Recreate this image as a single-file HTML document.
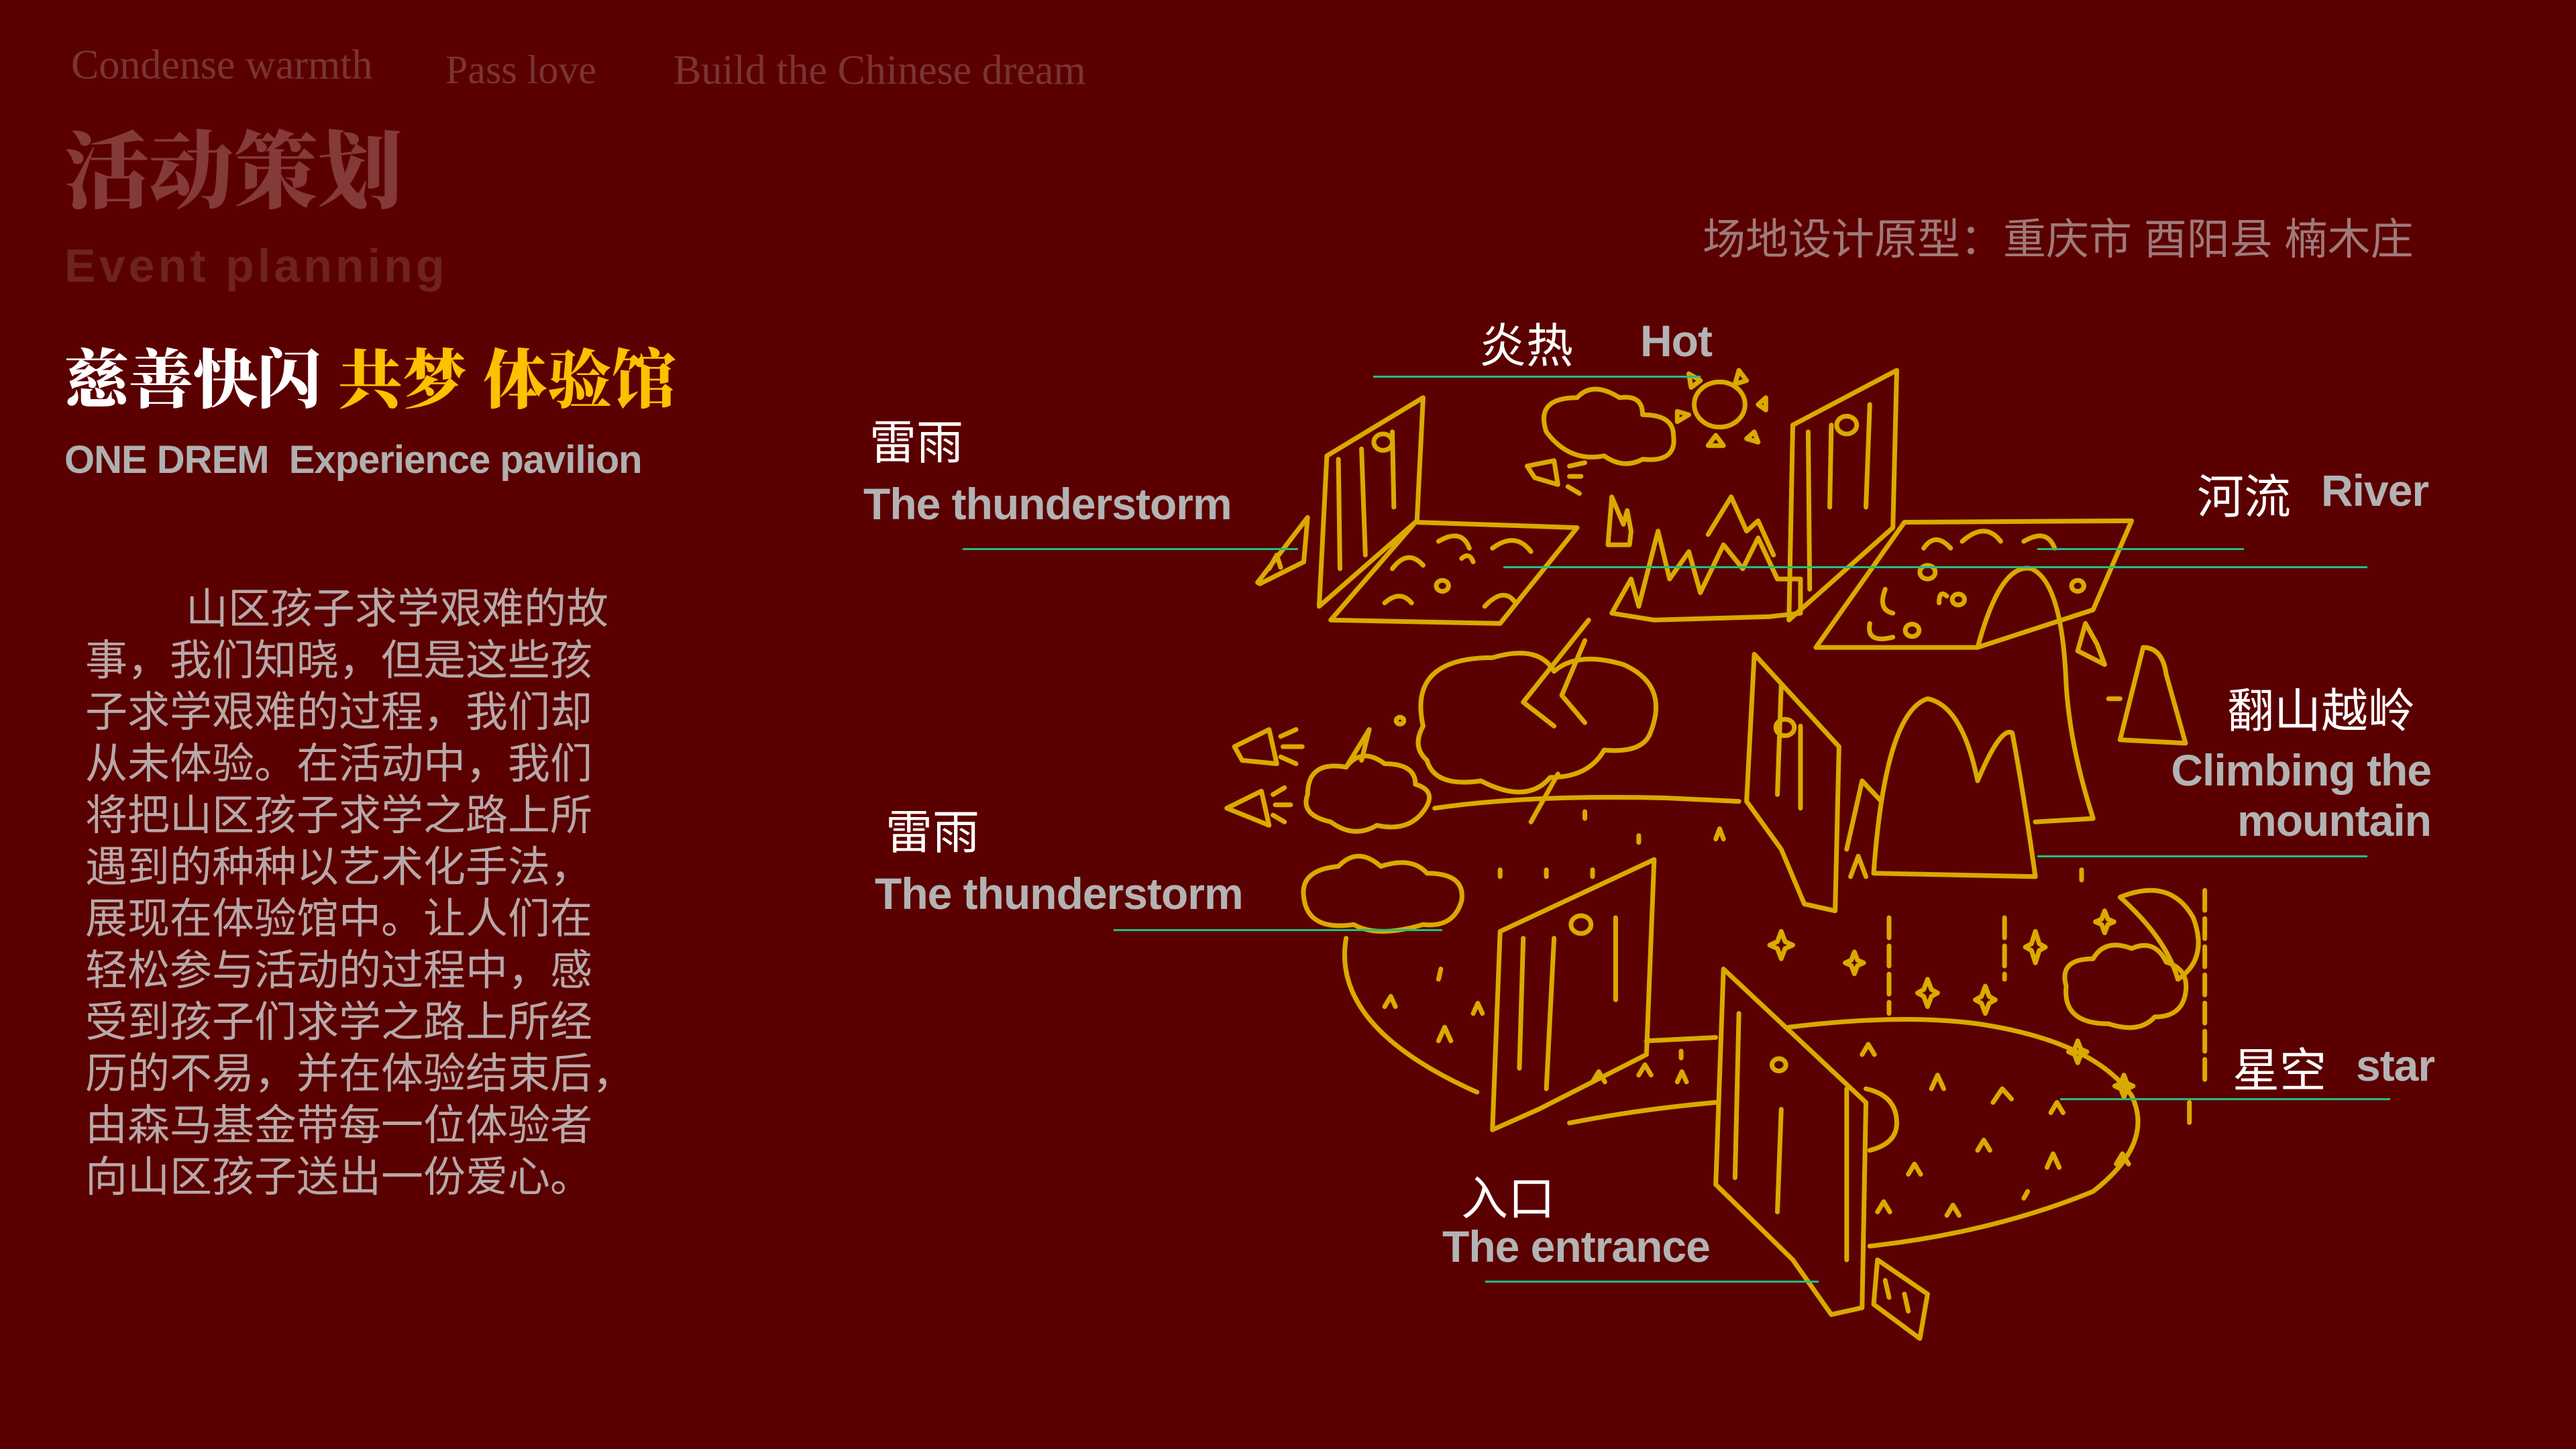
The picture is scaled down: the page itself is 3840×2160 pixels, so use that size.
<!DOCTYPE html>
<html><head><meta charset="utf-8"><style>
html,body{margin:0;padding:0}
body{width:3840px;height:2160px;background:#5b0000;position:relative;overflow:hidden;font-family:"Liberation Sans","Noto Sans CJK SC",sans-serif}
.a{position:absolute;white-space:nowrap}
.ser{font-family:"Liberation Serif","Noto Serif CJK SC",serif}
.cn{color:#fff;font-family:"Liberation Sans","Noto Sans CJK SC",sans-serif;font-size:70px}
.en{color:#b3b3b3;font-weight:bold;font-size:66px;font-family:"Liberation Sans","Noto Sans CJK SC",sans-serif;letter-spacing:-1px}
.ln{position:absolute;height:3px;background:#1fbf86}
.body div{height:77px}
svg path,svg circle{vector-effect:non-scaling-stroke}
</style></head><body>
<div class="a ser" style="left:106px;top:62px;font-size:62px;color:#7a3434">Condense warmth</div>
<div class="a ser" style="left:664px;top:70px;font-size:60px;color:#7a3434">Pass love</div>
<div class="a ser" style="left:1004px;top:70px;font-size:62px;color:#7a3434">Build the Chinese dream</div>
<div class="a" style="left:96px;top:196px;font-size:126px;font-weight:900;color:#853a3a;font-family:'Liberation Serif','Noto Serif CJK SC',serif;line-height:1">活动策划</div>
<div class="a" style="left:96px;top:356px;font-size:70px;font-weight:bold;color:#6e2222;letter-spacing:5px">Event planning</div>
<div class="a" style="left:96px;top:510px;font-size:96px;font-weight:900;font-family:'Liberation Serif','Noto Serif CJK SC',serif;line-height:1.2"><span style="color:#fff">慈善快闪</span> <span style="color:#ffc000">共梦 体验馆</span></div>
<div class="a" style="left:96px;top:652px;font-size:58px;font-weight:bold;color:#b0b0b0;letter-spacing:-1px">ONE DREM&nbsp; Experience pavilion</div>
<div class="a body" style="left:127px;top:870px;font-size:63px;color:#b8a8a8;line-height:77px;font-family:'Liberation Sans','Noto Sans CJK SC',sans-serif">
<div style="padding-left:150px">山区孩子求学艰难的故</div>
<div>事，我们知晓，但是这些孩</div>
<div>子求学艰难的过程，我们却</div>
<div>从未体验。在活动中，我们</div>
<div>将把山区孩子求学之路上所</div>
<div>遇到的种种以艺术化手法，</div>
<div>展现在体验馆中。让人们在</div>
<div>轻松参与活动的过程中，感</div>
<div>受到孩子们求学之路上所经</div>
<div>历的不易，并在体验结束后，</div>
<div>由森马基金带每一位体验者</div>
<div>向山区孩子送出一份爱心。</div>
</div>
<div class="a" style="left:2538px;top:306px;font-size:64px;color:#a07a7a">场地设计原型：重庆市 酉阳县 楠木庄</div>

<svg class="a" style="left:0;top:0" width="3840" height="2160">
<g transform="translate(1800,450) scale(1.148,1.02)" fill="none" stroke="#d9aa00" stroke-width="7" stroke-linejoin="round" stroke-linecap="round">
<path d="M155,225 L280,140 L272,320 L145,445 Z M170,230 L172,390 M200,215 L205,370 M240,190 L242,300"/>
<circle cx="228" cy="205" r="12"/>
<path d="M270,322 L480,330 L380,470 L160,465 Z"/>
<path d="M240,390 q20,-30 40,-5 M300,350 q30,-20 40,10 M370,360 q30,-25 50,5 M230,440 q20,-20 35,0 M360,445 q25,-30 40,-5 M330,375 q10,-10 15,5"/>
<circle cx="305" cy="415" r="8"/>
<path d="M65,410 L130,315 L125,380 L68,412 Z M80,390 l10,-20 l5,18"/>
<path d="M440,190 q-15,-50 40,-50 q20,-25 55,0 q30,-5 30,25 q40,0 40,30 q5,40 -40,35 q-25,15 -50,-5 q-45,10 -75,-35 Z"/>
<circle cx="665" cy="150" r="33"/>
<path d="M625,105 l15,10 l-12,10 Z M690,100 l10,15 l-15,5 Z M715,150 l10,-10 l0,18 Z M650,210 l10,-15 l10,15 Z M700,200 l10,-10 l5,15 Z M610,160 l15,5 l-15,10 Z"/>
<path d="M415,240 l35,-8 l5,35 l-30,-10 Z M470,240 l20,-5 M470,255 l15,0 M468,270 l15,10"/>
<path d="M520,355 l5,-70 l15,40 l5,-20 l5,30 l-2,20 Z M525,455 l25,-50 l10,40 l25,-110 l15,70 l25,-40 l15,60 l30,-70 l25,35 l20,-45 l25,60 l30,0 l0,50 l-40,5 l-150,5 Z M650,340 l30,-55 l20,50 l15,-15 l20,50"/>
<path d="M760,180 L895,100 L890,330 L755,465 Z M780,190 L782,420 M810,180 L808,300 M860,150 L855,300"/>
<circle cx="830" cy="180" r="13"/>
<path d="M905,322 L1200,320 L1150,450 L1000,505 L790,505 Z"/>
<path d="M930,360 q15,-25 35,0 M980,350 q30,-30 50,0 M1060,350 q30,-20 40,10 M880,420 q-10,30 10,35 M860,470 q-5,30 30,20 M950,440 q0,-20 10,-10"/>
<circle cx="935" cy="395" r="10"/><circle cx="975" cy="435" r="8"/><circle cx="915" cy="480" r="9"/><circle cx="1130" cy="415" r="8"/>
<path d="M1000,505 Q1030,380 1070,390 Q1110,410 1115,560 Q1120,650 1150,755 L1075,760"/>
<path d="M1130,510 l10,-40 l15,30 l10,30 Z M1185,640 l30,-135 q25,0 30,40 l25,100 Z M1185,580 l-15,0"/>
<path d="M280,620 q-20,-100 90,-100 q60,-20 80,20 q30,-30 90,-10 q60,30 35,100 q-10,30 -60,25 q-20,40 -70,40 q-30,40 -90,5 q-60,10 -70,-30 q-20,-20 -5,-50 Z"/>
<path d="M495,465 l-85,120 l40,35 M490,495 l-30,80 l30,40"/>
<path d="M455,690 l-35,70"/>
<circle cx="250" cy="612" r="5"/>
<path d="M35,650 l45,-25 l10,50 l-45,-5 Z M95,635 l20,-10 M98,650 l25,0 M95,665 l20,10"/>
<path d="M25,740 l45,-25 l10,50 Z M85,720 l15,-10 M88,735 l20,0 M85,750 l15,10"/>
<path d="M130,720 q0,-50 50,-40 q20,-30 50,-5 q40,0 40,30 q30,10 10,40 q-20,30 -60,20 q-30,20 -60,-5 q-40,-10 -30,-40 Z M180,680 l30,-55 l-10,45"/>
<path d="M125,870 q-5,-40 45,-45 q25,-30 55,0 q40,-15 60,10 q50,0 45,40 q-10,40 -50,35 q-60,20 -90,0 q-60,10 -65,-40 Z"/>
<path d="M295,740 q120,-20 300,-15 l95,5"/>
<path d="M180,930 Q160,1060 350,1155"/>
<path d="M230,1030 l8,-15 l6,15 M300,1080 l8,-20 l8,20 M345,1040 l6,-15 l6,15 M300,990 l3,-15 M380,830 l0,10 M440,830 l0,10 M500,830 l0,10 M560,780 l0,10 M490,745 l0,10 M660,785 l5,-15 l5,15"/>
<path d="M710,515 L820,650 L815,890 L775,880 L745,800 L700,730 Z M745,560 l-5,160 M770,620 l0,120"/>
<circle cx="750" cy="622" r="12"/>
<path d="M865,835 Q880,600 935,580 Q980,590 1000,700 Q1030,620 1045,630 Q1060,720 1075,840 Z"/>
<path d="M830,800 l20,-100 l25,30 M835,840 l10,-30 l10,30"/>
<path d="M380,920 L580,815 L570,1100 L430,1180 L370,1210 Z M410,930 L405,1120 M450,930 L440,1150 M530,900 l0,120"/>
<circle cx="485" cy="910" r="13"/>
<path d="M570,1080 L660,1075 M470,1200 Q560,1180 660,1170"/>
<path d="M500,1140 l8,-15 l8,15 M560,1130 l8,-15 l8,15 M610,1140 l6,-15 l6,15 M615,1105 l0,-10"/>
<path d="M670,975 L855,1170 L850,1470 L810,1480 L760,1400 L660,1290 Z M690,1040 L685,1280 M745,1180 l-5,150 M830,1150 l0,250"/>
<circle cx="742" cy="1115" r="9"/>
<path d="M870,1400 L935,1450 L925,1515 L865,1465 Z M880,1430 l5,25 M905,1450 l5,25"/>
<path d="M755,1060 Q900,1040 1000,1055 Q1150,1080 1200,1160 Q1230,1230 1150,1300 Q1020,1360 860,1380"/>
<path d="M855,1150 q40,10 40,50 q0,30 -35,40"/>
<path d="M850,1100 l8,-15 l8,15 M940,1150 l8,-20 l8,20 M1020,1170 l12,-20 l12,15 M1095,1185 l8,-15 l8,15 M1000,1240 l8,-15 l8,15 M1090,1265 l8,-20 l8,20 M1180,1260 l8,-15 l8,15 M910,1275 l8,-15 l8,15 M960,1335 l8,-15 l8,15 M1060,1310 l5,-10 M870,1330 l8,-15 l8,15"/>
<path d="M745,920 l5,15 l10,5 l-10,5 l-5,15 l-5,-15 l-10,-5 l10,-5 Z M840,950 l4,12 l8,4 l-8,4 l-4,12 l-4,-12 l-8,-4 l8,-4 Z M935,990 l5,15 l8,5 l-8,5 l-5,15 l-5,-15 l-8,-5 l8,-5 Z M1010,1000 l5,15 l8,5 l-8,5 l-5,15 l-5,-15 l-8,-5 l8,-5 Z M1075,920 l5,18 l8,5 l-8,5 l-5,18 l-5,-18 l-8,-5 l8,-5 Z M1165,890 l4,12 l8,4 l-8,4 l-4,12 l-4,-12 l-8,-4 l8,-4 Z M1190,1130 l4,12 l8,4 l-8,4 l-4,12 l-4,-12 l-8,-4 l8,-4 Z M1130,1080 l4,12 l8,4 l-8,4 l-4,12 l-4,-12 l-8,-4 l8,-4 Z"/>
<path d="M885,900 l0,140 M1035,900 l0,90 M1295,860 l0,280 M1275,1170 l0,40 M1135,830 l0,15" stroke-dasharray="30 12"/>
<path d="M1185,870 Q1250,840 1280,900 Q1300,960 1260,990 Q1245,930 1185,870 Z"/>
<path d="M1115,1000 q-10,-40 35,-40 q15,-30 50,-15 q30,-15 45,20 q30,10 25,45 q-5,35 -40,35 q-20,25 -60,10 q-60,0 -55,-55 Z"/>
</g>
</svg>

<div class="a cn" style="left:2205px;top:460px">炎热</div>
<div class="a en" style="left:2445px;top:470px">Hot</div>
<div class="ln" style="left:2047px;top:560px;width:488px"></div>

<div class="a cn" style="left:1296px;top:604px">雷雨</div>
<div class="a en" style="left:1287px;top:713px">The thunderstorm</div>
<div class="ln" style="left:1435px;top:817px;width:500px"></div>

<div class="a cn" style="left:3275px;top:685px">河流</div>
<div class="a en" style="left:3460px;top:693px">River</div>
<div class="ln" style="left:3037px;top:817px;width:308px"></div>
<div class="ln" style="left:2241px;top:844px;width:1288px"></div>

<div class="a cn" style="left:3320px;top:1004px">翻山越岭</div>
<div class="a en" style="right:216px;top:1110px">Climbing the</div>
<div class="a en" style="right:216px;top:1185px">mountain</div>
<div class="ln" style="left:3037px;top:1275px;width:492px"></div>

<div class="a cn" style="left:1320px;top:1185px">雷雨</div>
<div class="a en" style="left:1304px;top:1294px">The thunderstorm</div>
<div class="ln" style="left:1660px;top:1385px;width:490px"></div>

<div class="a cn" style="left:3328px;top:1540px">星空</div>
<div class="a en" style="left:3512px;top:1550px">star</div>
<div class="ln" style="left:3071px;top:1637px;width:492px"></div>

<div class="a cn" style="left:2178px;top:1731px">入口</div>
<div class="a en" style="left:2150px;top:1820px">The entrance</div>
<div class="ln" style="left:2214px;top:1909px;width:497px"></div>
</body></html>
